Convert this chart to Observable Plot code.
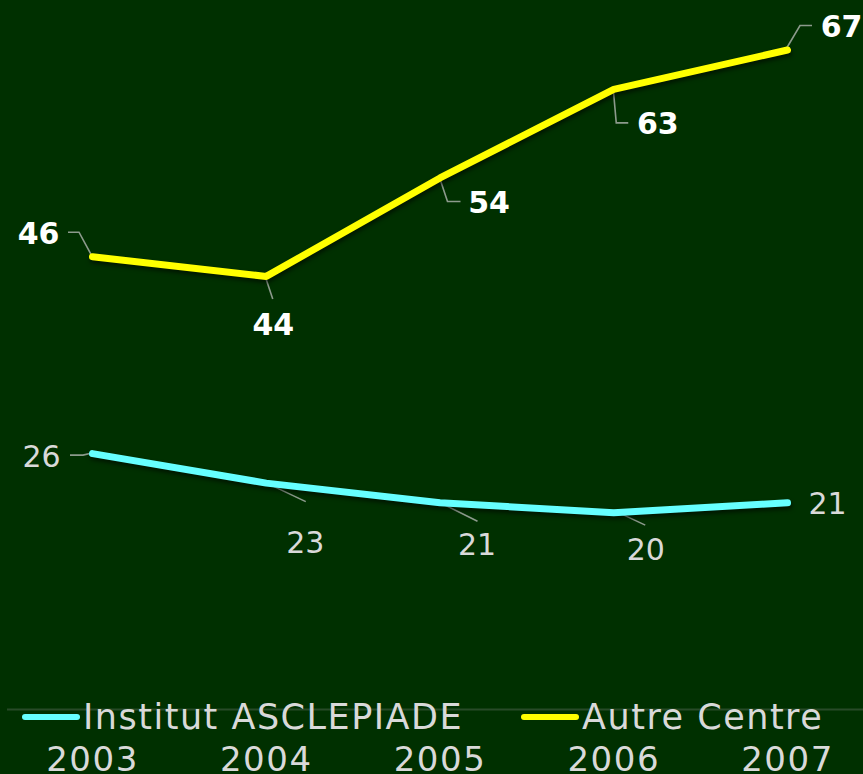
<!DOCTYPE html>
<html>
<head>
<meta charset="utf-8">
<script src="https://cdn.jsdelivr.net/npm/d3@7"></script>
<script src="https://cdn.jsdelivr.net/npm/@observablehq/plot@0.6"></script>
<style>
  html, body { margin: 0; padding: 0; background: #003000; }
  #wrap { position: relative; width: 863px; height: 774px; overflow: hidden; }
  #legend { position: absolute; left: 22px; top: 697px; display: flex; align-items: center;
            font-family: "DejaVu Sans", sans-serif; font-size: 35px; color: #d9d9d9; letter-spacing: 1.5px; }
  .item { display: flex; align-items: center; }
  .sw { width: 58px; height: 6px; border-radius: 3px; margin-right: 3px; }
</style>
</head>
<body>
<div id="wrap"><div id="legend"></div></div>
<script>
// ---- data ----
const years = [2003, 2004, 2005, 2006, 2007];
const seriesNames = ["Institut ASCLEPIADE", "Autre Centre"];
const institut = [26, 23, 21, 20, 21];
const autre = [46, 44, 54, 63, 67];

// ---- style ----
const seriesColors = ["#66ffff", "#ffff00"];
const labelFill = ["#d9d9d9", "#ffffff"];
const labelWeight = ["normal", "bold"];
// label offsets (px) relative to each point, and leader-line shapes (px)
const labelOffsets = [
  [[-51, 4], [39, 60], [37, 43], [32, 38], [40, 2]],
  [[-54, -22], [7, 49], [49, 25], [44, 35], [54, -23]]
];
const leaders = [
  [[[0, 0], [-9, 2], [-22, 2]], [[0, 0], [40, 19]], [[0, 0], [38, 19]], [[0, -2], [32, 13]], null],
  [[[0, 0], [-13, -24], [-24, -24]], [[0, 2], [7, 23]], [[0, 0], [8, 24], [21, 24]], [[0, 0], [3, 34], [15, 34]], [[0, -2], [13, -24], [25, -24]]]
];

const seriesValues = [institut, autre];
const rows = [];
seriesValues.forEach((vals, s) => vals.forEach((v, i) => rows.push({series: seriesNames[s], year: years[i], value: v, s, i})));

const labelMarks = rows.map(r => Plot.text([r], {
  x: "year", y: "value", text: d => String(d.value),
  dx: labelOffsets[r.s][r.i][0], dy: labelOffsets[r.s][r.i][1],
  fill: labelFill[r.s], fontWeight: labelWeight[r.s], fontSize: 30
}));

const plot = Plot.plot({
  width: 863, height: 774,
  marginLeft: 92, marginRight: 76, marginTop: 20, marginBottom: 65,
  style: {background: "#003000", color: "#d9d9d9", fontFamily: "DejaVu Sans, sans-serif", fontSize: "34px", overflow: "visible"},
  x: {domain: [2003, 2007], ticks: years, tickFormat: d => String(d), tickSize: 0, tickPadding: 37, label: null},
  y: {domain: [0, 70], axis: null},
  color: {domain: seriesNames, range: seriesColors},
  marks: [
    Plot.ruleY([0], {stroke: "#284a28", strokeWidth: 2, insetLeft: -85, insetRight: -76}),
    Plot.line(rows, {x: "year", y: "value", z: "series", stroke: "series", strokeWidth: 7, strokeLinecap: "round", strokeLinejoin: "round"}),
    ...labelMarks
  ]
});

// leader lines drawn through the plot's scales
const xs = plot.scale("x"), ys = plot.scale("y");
const svg = d3.select(plot);
const lg = svg.insert("g", "g[aria-label=line]").attr("fill", "none").attr("stroke", "#8c9a8c").attr("stroke-width", 1.6);
rows.forEach(r => {
  const shape = leaders[r.s][r.i];
  if (!shape) return;
  const px = xs.apply(r.year), py = ys.apply(r.value);
  lg.append("path").attr("d", d3.line()(shape.map(([dx, dy]) => [px + dx, py + dy])));
});
svg.selectAll("g[aria-label=line] path").style("filter", "drop-shadow(1px 3px 2px rgba(0,0,0,0.55))");
svg.selectAll("g[aria-label='x-axis tick label'] text, g[aria-label='x-axis'] text").style("letter-spacing", "1.5px");

document.getElementById("wrap").prepend(plot);

// legend
const legend = d3.select("#legend");
seriesNames.forEach((name, s) => {
  const it = legend.append("div").attr("class", "item").style("margin-right", s === 0 ? "58px" : "0");
  it.append("div").attr("class", "sw").style("background", seriesColors[s]);
  it.append("span").text(name);
});
</script>
</body>
</html>
